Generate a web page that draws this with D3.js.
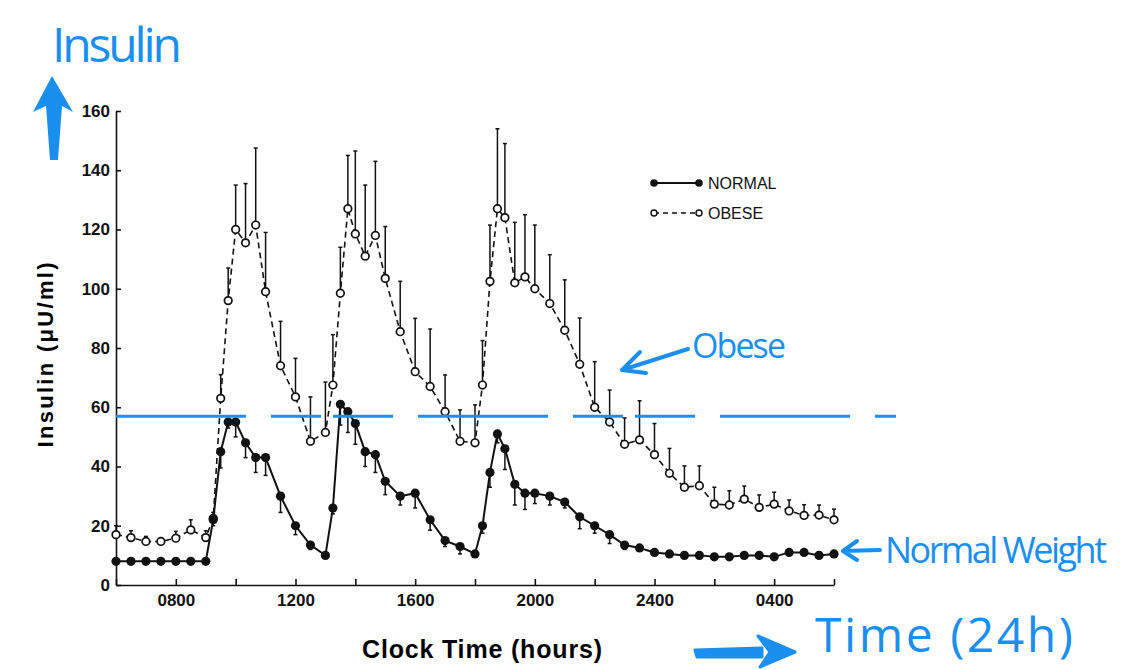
<!DOCTYPE html>
<html>
<head>
<meta charset="utf-8">
<script src="https://cdn.jsdelivr.net/npm/d3@7"></script>
<style>
  body { margin: 0; background: #fff; }
  svg { display: block; }
  .axis path, .axis line { stroke: #111; stroke-width: 1.6; }
  .hand { font-family: "Open Sans", "Noto Sans", sans-serif; fill: #1a8ff0; }
</style>
</head>
<body>
<div id="chart"></div>
<script>
// clock time in hours from 0600 (6) to 0600 next day (30)
var hours = [6, 6.5, 7, 7.5, 8, 8.5, 9,
    9.25, 9.5, 9.75, 10, 10.33, 10.67, 11, 11.5, 12, 12.5, 13,
    13.25, 13.5, 13.75, 14, 14.33, 14.67, 15, 15.5, 16, 16.5, 17, 17.5, 18,
    18.25, 18.5, 18.75, 19, 19.33, 19.67, 20, 20.5, 21, 21.5, 22, 22.5, 23, 23.5, 24,
    24.5, 25, 25.5, 26, 26.5, 27, 27.5, 28, 28.5, 29, 29.5, 30];

var normal = [8, 8, 8, 8, 8, 8, 8,
    22, 45, 55, 55, 48, 43, 43, 30, 20, 13.5, 10,
    26, 61, 58.5, 54.5, 45, 44, 35, 30, 31, 22, 15, 13, 10.5,
    20, 38, 51, 46, 34, 31, 31, 30, 28, 23, 20, 17, 13.5, 12.5, 11,
    10.5, 10, 10, 9.5, 9.5, 10, 10, 9.5, 11, 11, 10, 10.5];
var normalErr = [0, 0, 0, 0, 0, 0, 0,
    2, 5.5, 2, 5, 5, 5, 6, 5.5, 3, 1.5, 1,
    2, 7, 7, 7, 5, 6, 4.5, 3, 5, 3.5, 2, 2.5, 1,
    2.5, 5, 3, 7, 7, 5.5, 3.5, 3, 2, 4, 2.5, 3, 1.5, 1, 1,
    1, 1, 1, 1, 1, 1, 1, 1, 1, 1, 1, 1];

var obese = [17, 16, 14.7, 14.7, 15.8, 18.6, 16,
    22.5, 63, 96, 120, 115.5, 121.5, 99, 74, 63.5, 48.5, 51.5,
    67.5, 98.5, 127, 118.5, 111, 118, 103.5, 85.5, 72, 67, 58.5, 48.5, 48,
    67.5, 102.5, 127, 124, 102, 104, 100, 95, 86, 74.5, 60, 55, 47.5, 49, 44,
    37.7, 33, 33.5, 27.3, 27, 29, 26.2, 27.3, 25, 23.5, 23.6, 22];
var obeseErr = [3, 2.3, 1.7, 1.2, 2.3, 3.4, 2.3,
    2, 8, 11, 15, 20, 26, 20, 15, 13, 15, 17,
    17, 15.5, 18, 28, 24, 25, 17.5, 17, 18, 19.4, 12.4, 10.6, 12.8,
    15, 19, 27, 25, 20.4, 21, 21.5, 16.5, 17, 15.6, 15.4, 10.8, 8.9, 13.2, 10.5,
    8.4, 7.2, 6.7, 5.7, 4.8, 4.4, 4.2, 4, 3.7, 3.6, 3.4, 3.6];

var yTicks = [0, 20, 40, 60, 80, 100, 120, 140, 160];
var xTicks = [6, 8, 10, 12, 14, 16, 18, 20, 22, 24, 26, 28, 30];
var xLabels = {8: "0800", 12: "1200", 16: "1600", 20: "2000", 24: "2400", 28: "0400"};
var marked = 57;   // hand-drawn reference line

var width = 1141, height = 670;

var svg = d3.select("#chart")
    .append("svg")
    .attr("width", width)
    .attr("height", height);

svg.append("rect").attr("width", width).attr("height", height).attr("fill", "#fff");

var x = d3.scaleLinear().domain([6, 30]).range([116, 834]);
var y = d3.scaleLinear().domain([0, 160]).range([585, 111]);

// Y axis
var yAxis = svg.append("g")
    .attr("class", "axis")
    .attr("transform", "translate(116,0)")
    .call(d3.axisLeft(y).tickValues(yTicks).tickSizeInner(-5).tickSizeOuter(0).tickPadding(6));
yAxis.selectAll("text")
    .attr("font-family", "Liberation Sans, Arial, sans-serif")
    .attr("font-weight", "bold")
    .attr("font-size", 17)
    .attr("fill", "#111");

// X axis
var xAxis = svg.append("g")
    .attr("class", "axis")
    .attr("transform", "translate(0,585)")
    .call(d3.axisBottom(x).tickValues(xTicks).tickSizeInner(-6).tickSizeOuter(0).tickPadding(9)
        .tickFormat(function (d) { return xLabels[d] || ""; }));
xAxis.selectAll("text")
    .attr("font-family", "Liberation Sans, Arial, sans-serif")
    .attr("font-weight", "bold")
    .attr("font-size", 17)
    .attr("fill", "#111");

svg.append("text")
    .attr("x", 482)
    .attr("y", 658)
    .attr("textLength", 240)
    .style("text-anchor", "middle")
    .style("font-family", "Liberation Sans, Arial, sans-serif")
    .style("font-weight", "bold")
    .style("font-size", "25px")
    .text("Clock Time (hours)");

svg.append("text")
    .attr("transform", "rotate(-90)")
    .attr("x", -355)
    .attr("y", 53)
    .attr("textLength", 185)
    .style("text-anchor", "middle")
    .style("font-family", "Liberation Sans, Arial, sans-serif")
    .style("font-weight", "bold")
    .style("font-size", "22px")
    .text("Insulin  (\u03bcU/ml)");

var rows = hours.map(function (h, i) {
    return {h: h, n: normal[i], ne: normalErr[i], o: obese[i], oe: obeseErr[i]};
});

// error bars: obese up, normal down
var bars = svg.append("g").attr("stroke", "#111").attr("stroke-width", 1.5);
rows.forEach(function (d) {
    if (d.oe > 0) {
        bars.append("line").attr("x1", x(d.h)).attr("x2", x(d.h)).attr("y1", y(d.o)).attr("y2", y(d.o + d.oe));
        bars.append("line").attr("x1", x(d.h) - 2).attr("x2", x(d.h) + 2).attr("y1", y(d.o + d.oe)).attr("y2", y(d.o + d.oe));
    }
    if (d.ne > 0) {
        bars.append("line").attr("x1", x(d.h)).attr("x2", x(d.h)).attr("y1", y(d.n)).attr("y2", y(d.n - d.ne));
        bars.append("line").attr("x1", x(d.h) - 2).attr("x2", x(d.h) + 2).attr("y1", y(d.n - d.ne)).attr("y2", y(d.n - d.ne));
    }
});

var lineN = d3.line().x(function (d) { return x(d.h); }).y(function (d) { return y(d.n); });
var lineO = d3.line().x(function (d) { return x(d.h); }).y(function (d) { return y(d.o); });

svg.append("path")
    .datum(rows)
    .attr("d", lineO)
    .attr("fill", "none")
    .attr("stroke", "#111")
    .attr("stroke-width", 1.6)
    .attr("stroke-dasharray", "6,4");

svg.append("path")
    .datum(rows)
    .attr("d", lineN)
    .attr("fill", "none")
    .attr("stroke", "#111")
    .attr("stroke-width", 2);

svg.append("g")
    .selectAll("circle")
    .data(rows)
    .enter()
    .append("circle")
    .attr("cx", function (d) { return x(d.h); })
    .attr("cy", function (d) { return y(d.o); })
    .attr("r", 3.8)
    .attr("fill", "#fff")
    .attr("stroke", "#111")
    .attr("stroke-width", 1.7);

svg.append("g")
    .selectAll("circle")
    .data(rows)
    .enter()
    .append("circle")
    .attr("cx", function (d) { return x(d.h); })
    .attr("cy", function (d) { return y(d.n); })
    .attr("r", 4.6)
    .attr("fill", "#111");

// legend
var legend = svg.append("g").attr("class", "legend");
legend.append("line").attr("x1", 654).attr("x2", 699).attr("y1", 183).attr("y2", 183)
    .attr("stroke", "#111").attr("stroke-width", 2);
legend.append("circle").attr("cx", 654).attr("cy", 183).attr("r", 3.8).attr("fill", "#111");
legend.append("circle").attr("cx", 699).attr("cy", 183).attr("r", 3.8).attr("fill", "#111");
legend.append("line").attr("x1", 654).attr("x2", 699).attr("y1", 213).attr("y2", 213)
    .attr("stroke", "#111").attr("stroke-width", 1.5).attr("stroke-dasharray", "5,4");
legend.append("circle").attr("cx", 654).attr("cy", 213).attr("r", 3).attr("fill", "#fff")
    .attr("stroke", "#111").attr("stroke-width", 1.4);
legend.append("circle").attr("cx", 699).attr("cy", 213).attr("r", 3).attr("fill", "#fff")
    .attr("stroke", "#111").attr("stroke-width", 1.4);
legend.append("text").attr("x", 708).attr("y", 189).text("NORMAL")
    .style("font-family", "Liberation Sans, Arial, sans-serif").style("font-size", "16px").attr("fill", "#111");
legend.append("text").attr("x", 708).attr("y", 219).text("OBESE")
    .style("font-family", "Liberation Sans, Arial, sans-serif").style("font-size", "16px").attr("fill", "#111");

// hand-drawn annotations
var blue = "#1a8ff0";
svg.append("line")
    .attr("x1", 116).attr("x2", 896)
    .attr("y1", y(marked)).attr("y2", y(marked))
    .attr("stroke", blue).attr("stroke-width", 3)
    .attr("stroke-dasharray", "130,25,50,12,60,25");

svg.append("text").attr("class", "hand").attr("x", 52).attr("y", 62)
    .attr("textLength", 130).style("font-size", "48px").text("Insulin");
svg.append("path")
    .attr("d", "M52,76 L73,112 L62,106 L58,160 L50,160 L46,106 L33,112 Z")
    .attr("fill", blue);

svg.append("text").attr("class", "hand").attr("x", 692).attr("y", 358)
    .attr("textLength", 94).style("font-size", "34px").text("Obese");
svg.append("path")
    .attr("d", "M688,349 L622,370 M622,370 L640,352 M622,370 L646,373")
    .attr("fill", "none").attr("stroke", blue).attr("stroke-width", 4).attr("stroke-linecap", "round");

svg.append("text").attr("class", "hand").attr("x", 885).attr("y", 563)
    .attr("textLength", 222).style("font-size", "36px").text("Normal Weight");
svg.append("path")
    .attr("d", "M880,550 L843,551 M843,551 L857,541 M843,551 L857,560")
    .attr("fill", "none").attr("stroke", blue).attr("stroke-width", 4).attr("stroke-linecap", "round");

svg.append("text").attr("class", "hand").attr("x", 815).attr("y", 652)
    .attr("textLength", 258).style("font-size", "48px").text("Time (24h)");
svg.append("path")
    .attr("d", "M695,650 L762,648 L762,657 L697,657 Z M758,636 L795,652 L760,667 L770,652 Z")
    .attr("fill", blue).attr("stroke", blue).attr("stroke-width", 3).attr("stroke-linejoin", "round");
</script>
</body>
</html>
